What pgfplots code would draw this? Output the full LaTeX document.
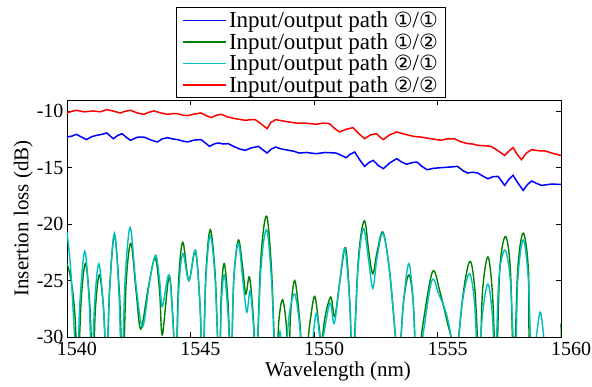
\documentclass[border=0pt]{standalone}
\usepackage{fontspec}
\setmainfont{Liberation Serif}
\newfontfamily\dejavu{DejaVu Sans}
\usepackage{pgfplots}
\pgfplotsset{compat=1.18}
\definecolor{mblue}{RGB}{0,0,255}
\definecolor{mgreen}{RGB}{0,128,0}
\definecolor{mcyan}{RGB}{0,191,191}
\definecolor{mred}{RGB}{255,0,0}
\newcommand{\cn}[1]{{\dejavu\fontsize{21}{22}\selectfont #1}}
\begin{document}
\begin{tikzpicture}
\begin{axis}[
  scale only axis, width=494pt, height=237pt,
  xmin=1540, xmax=1560, ymin=-30, ymax=-9,
  xtick={1540,1545,...,1560}, ytick={-30,-25,...,-10},
  tick align=inside, major tick length=5pt,
  /pgf/number format/assume math mode=true,
  /pgf/number format/1000 sep={},
  tick label style={font=\fontsize{20}{24}\selectfont},
  xticklabel style={xshift=10pt, yshift=-2pt},
  label style={font=\fontsize{21}{24}\selectfont},
  xlabel={Wavelength (nm)}, ylabel={Insertion loss (dB)},
  xlabel style={xshift=24pt, yshift=1pt},
  ylabel style={yshift=-3pt},
  axis line style={line width=0.8pt},
  every tick/.style={line width=0.8pt, black},
  legend style={at={(axis description cs:0.494,1)}, anchor=south, yshift=2pt,
    font=\fontsize{23}{23}\selectfont, draw=black, line width=0.8pt,
    row sep=0pt, inner xsep=6pt, inner ysep=2pt, cells={anchor=west}},
  legend image code/.code={\draw[#1, line width=1.8pt] (0pt,0pt) -- (43pt,0pt);},
  legend cell align=left,
]
\addlegendimage{mblue}
\addlegendentry{Input/output path \cn{①}/\cn{①}}
\addlegendimage{mgreen}
\addlegendentry{Input/output path \cn{①}/\cn{②}}
\addlegendimage{mcyan}
\addlegendentry{Input/output path \cn{②}/\cn{①}}
\addlegendimage{mred}
\addlegendentry{Input/output path \cn{②}/\cn{②}}
\addplot[mblue, line width=1.5pt, forget plot] coordinates {
(1540.00,-12.28) (1540.20,-12.20) (1540.38,-12.04) (1540.60,-12.30) (1540.79,-12.51) (1541.00,-12.25) (1541.20,-12.13) (1541.40,-12.05) (1541.61,-11.92) (1541.75,-12.20) (1541.88,-12.43) (1542.05,-12.15) (1542.23,-11.98) (1542.40,-12.30) (1542.57,-12.57) (1542.85,-12.30) (1543.11,-12.28) (1543.40,-12.55) (1543.66,-12.72) (1543.85,-12.45) (1544.07,-12.34) (1544.28,-12.45) (1544.48,-12.51) (1544.70,-12.65) (1544.89,-12.72) (1545.15,-12.55) (1545.43,-12.51) (1545.60,-12.80) (1545.77,-13.11) (1545.95,-12.90) (1546.12,-12.81) (1546.33,-12.90) (1546.53,-12.87) (1546.80,-13.17) (1547.00,-13.35) (1547.21,-13.46) (1547.45,-13.25) (1547.75,-13.11) (1547.92,-13.40) (1548.10,-13.70) (1548.27,-13.35) (1548.44,-13.17) (1548.70,-13.35) (1548.98,-13.46) (1549.20,-13.55) (1549.39,-13.70) (1549.70,-13.65) (1550.08,-13.76) (1550.45,-13.65) (1550.89,-13.70) (1551.10,-13.90) (1551.30,-14.11) (1551.47,-13.80) (1551.65,-13.61) (1551.85,-14.30) (1552.05,-14.88) (1552.22,-14.55) (1552.40,-14.35) (1552.60,-14.80) (1552.81,-15.09) (1553.05,-14.60) (1553.35,-14.20) (1553.55,-14.50) (1553.76,-14.70) (1553.96,-14.55) (1554.17,-14.50) (1554.38,-14.90) (1554.58,-15.18) (1554.85,-15.05) (1555.13,-15.00) (1555.45,-14.95) (1555.81,-14.88) (1556.02,-15.25) (1556.22,-15.47) (1556.42,-15.40) (1556.63,-15.47) (1556.84,-15.75) (1557.04,-15.98) (1557.25,-15.80) (1557.45,-15.77) (1557.60,-16.20) (1557.72,-16.57) (1557.90,-16.00) (1558.06,-15.68) (1558.27,-16.40) (1558.47,-17.01) (1558.64,-16.50) (1558.81,-16.18) (1559.02,-16.40) (1559.22,-16.57) (1559.60,-16.45) (1560.00,-16.48)
};
\addplot[mgreen, line width=1.4pt, smooth, tension=0.55, forget plot] coordinates {
(1540.00,-23.5) (1540.17,-25) (1540.32,-28) (1540.44,-33)
(1540.58,-26.5) (1540.75,-23.5) (1540.92,-27) (1541.05,-33)
(1541.15,-27.5) (1541.31,-24.5) (1541.48,-27.5) (1541.60,-33)
(1541.72,-26) (1541.92,-21) (1542.12,-26) (1542.26,-33)
(1542.40,-25) (1542.59,-21.7) (1542.80,-26) (1542.99,-29.3)
(1543.30,-25.5) (1543.57,-23) (1543.75,-26) (1543.86,-29.8)
(1544.13,-24.6) (1544.28,-28) (1544.40,-33)
(1544.52,-25) (1544.69,-21.6) (1544.93,-25) (1545.20,-22.4) (1545.38,-27) (1545.50,-33)
(1545.62,-24.5) (1545.80,-20.5) (1546.00,-24.5) (1546.16,-33)
(1546.25,-26) (1546.37,-23.5) (1546.52,-27) (1546.64,-33)
(1546.75,-25) (1546.94,-21.4) (1547.12,-24) (1547.24,-26.2) (1547.39,-24.7) (1547.55,-28.5) (1547.66,-33)
(1547.85,-23) (1548.08,-19.3) (1548.28,-24) (1548.45,-33)
(1548.58,-28.5) (1548.73,-26.7) (1548.88,-29) (1548.98,-33)
(1549.05,-28) (1549.22,-25) (1549.42,-28.5) (1549.58,-33)
(1549.85,-28.5) (1550.03,-26.4) (1550.20,-29) (1550.30,-30.5)
(1550.45,-28.2) (1550.68,-26.45) (1550.84,-28.2)
(1551.05,-25) (1551.28,-22.1) (1551.45,-27) (1551.56,-33)
(1551.80,-23) (1552.04,-19.7) (1552.22,-22.5) (1552.38,-24.4) (1552.55,-22.5) (1552.79,-20.7) (1553.05,-24) (1553.30,-30) (1553.42,-33)
(1553.62,-27) (1553.84,-24.5) (1554.02,-27) (1554.16,-33)
(1554.40,-29) (1554.80,-24.2) (1555.10,-26) (1555.41,-28.8) (1555.55,-30) (1555.70,-33)
(1556.05,-26) (1556.32,-23.3) (1556.52,-26) (1556.70,-33)
(1556.82,-26) (1557.04,-22.9) (1557.22,-26) (1557.38,-33)
(1557.52,-24) (1557.75,-21.1) (1557.95,-24) (1558.09,-33)
(1558.25,-24) (1558.47,-20.8) (1558.68,-24) (1558.82,-33)
(1559.90,-33) (1560.00,-28.8)
};
\addplot[mcyan, line width=1.4pt, smooth, tension=0.55, forget plot] coordinates {
(1540.00,-20.7) (1540.15,-24) (1540.31,-30) (1540.42,-33)
(1540.52,-27) (1540.72,-22.4) (1540.90,-27) (1541.00,-33)
(1541.12,-27) (1541.29,-23.5) (1541.48,-27.5) (1541.62,-33)
(1541.72,-26) (1541.92,-20.8) (1542.10,-26) (1542.22,-33)
(1542.35,-25) (1542.56,-20.3) (1542.80,-25.5) (1543.06,-29.1)
(1543.35,-25) (1543.59,-22.75) (1543.75,-25) (1543.86,-27.3)
(1544.13,-24.5) (1544.30,-29) (1544.42,-33)
(1544.52,-26) (1544.69,-22.6) (1544.93,-25) (1545.20,-22.3) (1545.38,-27) (1545.50,-33)
(1545.62,-25) (1545.80,-21) (1546.00,-25) (1546.16,-33)
(1546.25,-27) (1546.37,-24.5) (1546.52,-28) (1546.64,-33)
(1546.75,-25) (1546.94,-21.7) (1547.12,-25) (1547.28,-27.8) (1547.41,-25.9) (1547.55,-29) (1547.66,-33)
(1547.85,-24) (1548.08,-20.5) (1548.28,-25) (1548.45,-33)
(1548.62,-29.5) (1548.78,-33)
(1549.00,-28) (1549.22,-26.2) (1549.42,-29) (1549.55,-33)
(1549.85,-32) (1550.09,-27.9) (1550.30,-30.5) (1550.64,-27.0) (1550.82,-28.8)
(1551.05,-25) (1551.25,-22.2) (1551.45,-27) (1551.58,-33)
(1551.78,-24) (1552.00,-20.4) (1552.20,-23) (1552.38,-25.7) (1552.55,-23) (1552.79,-20.8) (1553.05,-24) (1553.30,-30) (1553.42,-33)
(1553.62,-27) (1553.84,-23.5) (1554.02,-27) (1554.16,-33)
(1554.40,-30) (1554.77,-25) (1555.05,-26.2) (1555.34,-27.8) (1555.55,-30) (1555.70,-33)
(1556.00,-27) (1556.29,-24.4) (1556.50,-27) (1556.65,-33)
(1556.82,-28) (1557.04,-25.3) (1557.22,-28) (1557.34,-33)
(1557.48,-25) (1557.72,-22.3) (1557.95,-25) (1558.14,-33)
(1558.25,-25) (1558.47,-21.4) (1558.68,-25) (1558.82,-33)
(1559.00,-30) (1559.16,-27.8) (1559.30,-30) (1559.40,-33) (1560.00,-33)
};
\addplot[mred, line width=1.5pt, forget plot] coordinates {
(1540.00,-10.15) (1540.20,-10.00) (1540.38,-9.91) (1540.70,-10.05) (1541.06,-9.97) (1541.35,-10.05) (1541.61,-9.85) (1541.90,-10.00) (1542.16,-10.15) (1542.35,-10.00) (1542.57,-9.91) (1542.85,-10.15) (1543.11,-10.27) (1543.30,-10.10) (1543.52,-9.97) (1543.80,-10.15) (1544.07,-10.27) (1544.28,-10.20) (1544.48,-10.21) (1544.70,-10.35) (1544.89,-10.38) (1545.15,-10.25) (1545.43,-10.15) (1545.65,-10.40) (1545.84,-10.56) (1546.05,-10.35) (1546.25,-10.27) (1546.50,-10.50) (1546.80,-10.65) (1547.00,-10.72) (1547.21,-10.80) (1547.42,-10.75) (1547.62,-10.74) (1547.85,-11.10) (1548.10,-11.54) (1548.25,-11.00) (1548.44,-10.74) (1548.85,-10.90) (1549.26,-11.04) (1549.65,-11.05) (1550.08,-11.15) (1550.35,-11.05) (1550.62,-11.09) (1550.82,-11.50) (1551.03,-11.83) (1551.30,-11.60) (1551.58,-11.45) (1551.80,-11.95) (1552.05,-12.43) (1552.28,-12.10) (1552.53,-11.98) (1552.68,-12.30) (1552.81,-12.51) (1553.05,-12.10) (1553.35,-11.83) (1553.70,-12.05) (1554.03,-12.22) (1554.38,-12.30) (1554.72,-12.43) (1554.93,-12.50) (1555.13,-12.57) (1555.40,-12.45) (1555.67,-12.43) (1555.95,-12.70) (1556.22,-12.87) (1556.42,-12.90) (1556.63,-13.02) (1556.90,-13.05) (1557.17,-13.11) (1557.45,-13.50) (1557.72,-13.91) (1557.90,-13.50) (1558.06,-13.22) (1558.22,-13.80) (1558.40,-14.29) (1558.60,-13.70) (1558.81,-13.40) (1559.10,-13.50) (1559.36,-13.52) (1559.70,-13.75) (1560.00,-13.91)
};
\end{axis}
\pgfresetboundingbox
\useasboundingbox ([shift={(-67pt,-50pt)}]current axis.south west) rectangle ([shift={(31pt,100pt)}]current axis.north east);
\end{tikzpicture}
\end{document}
